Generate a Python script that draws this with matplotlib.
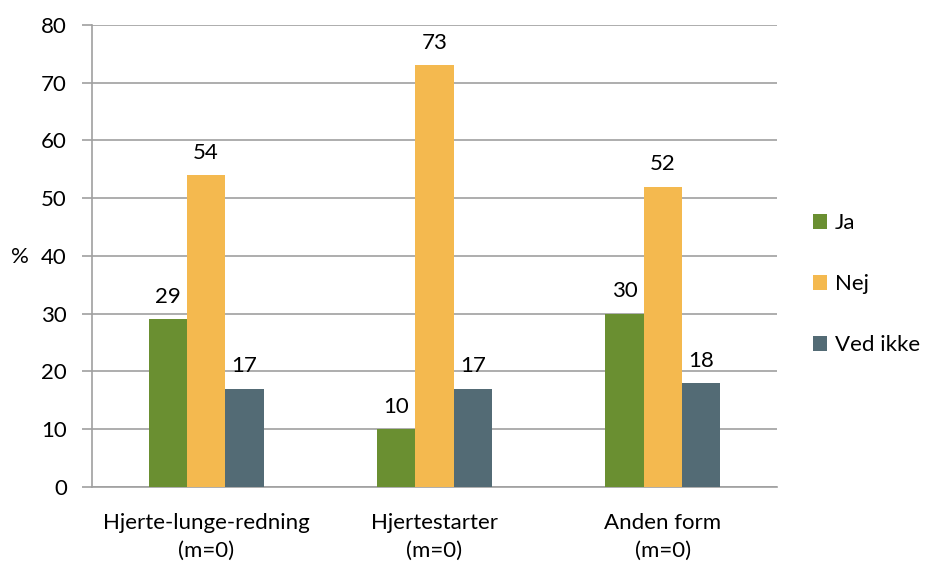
import numpy as np
import matplotlib.pyplot as plt

plt.rcParams['font.family'] = ['Lato', 'DejaVu Sans']

categories = ['Hjerte-lunge-redning\n(m=0)', 'Hjertestarter\n(m=0)', 'Anden form\n(m=0)']
series = ['Ja', 'Nej', 'Ved ikke']
ja = [29, 10, 30]
nej = [54, 73, 52]
ved_ikke = [17, 17, 18]
colors = ['#6a8f31', '#f4b94f', '#536b75']

fs = 16
fig = plt.figure(figsize=(9.27, 5.65), dpi=100)
ax = fig.add_axes([0.0992, 0.138, 0.739, 0.818])

x = np.arange(len(categories))
w = 0.168
for i, (name, vals) in enumerate(zip(series, [ja, nej, ved_ikke])):
    bars = ax.bar(x + (i - 1) * w, vals, w, color=colors[i], label=name, zorder=3)
    ax.bar_label(bars, padding=9, fontsize=fs)

ax.set_xlim(-0.5, 2.5)
ax.set_ylim(0, 80)
ax.set_yticks(range(0, 81, 10))
ax.set_xticks(x)
ax.set_xticklabels(categories, fontsize=fs, linespacing=1.45)
ax.tick_params(axis='y', labelsize=fs, length=7, color='#a0a0a0', width=1.2, pad=11)
ax.tick_params(axis='x', length=0, pad=19)
ax.grid(axis='y', color='#a0a0a0', linewidth=1.2, zorder=0)
for s in ['top', 'right']:
    ax.spines[s].set_visible(False)
for s in ['left', 'bottom']:
    ax.spines[s].set_color('#a0a0a0')
    ax.spines[s].set_linewidth(1.2)

fig.text(0.022, 1 - 257 / 565, '%', fontsize=fs, ha='center', va='center')

fig.legend(loc='center left', bbox_to_anchor=(0.877, 0.497), frameon=False,
           fontsize=fs, labelspacing=1.85, handlelength=0.65, handleheight=0.65,
           handletextpad=0.35, borderaxespad=0, borderpad=0)

fig.savefig('out.png', dpi=100)
